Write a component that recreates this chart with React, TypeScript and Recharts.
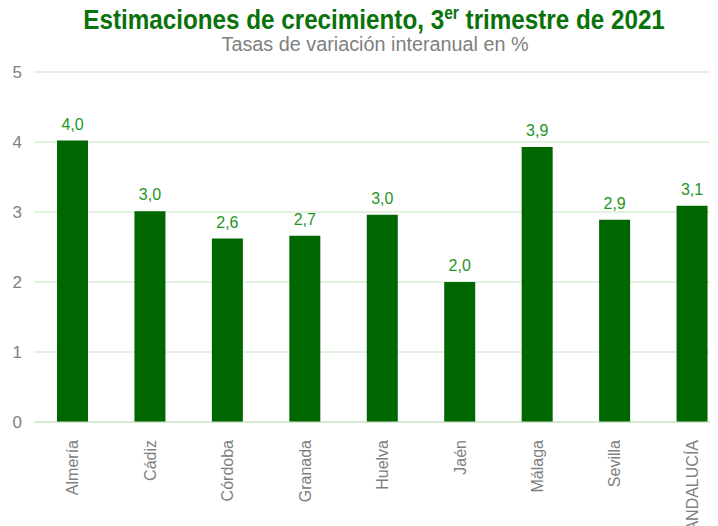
import React from 'react';
import { BarChart, Bar, XAxis, YAxis, CartesianGrid, LabelList } from 'recharts';

// Provinces and growth estimates, 3rd quarter 2021
const provinces = ['Almería', 'Cádiz', 'Córdoba', 'Granada', 'Huelva', 'Jaén', 'Málaga', 'Sevilla', 'ANDALUCÍA'];
const growth = [4.02, 3.01, 2.62, 2.66, 2.96, 2.0, 3.93, 2.89, 3.09];
const yTicks = [0, 1, 2, 3, 4, 5];

const data = provinces.map((name, i) => ({ name, value: growth[i] }));

const fmt = (v: number) => v.toFixed(1).replace('.', ',');

const XTick = (props: any) => {
  const { x, y, payload } = props;
  return (
    <text
      x={0}
      y={0}
      transform={`translate(${x},${y + 10}) rotate(-90)`}
      textAnchor="end"
      dy="0.35em"
      fill="#808080"
      fontSize={16}
      fontFamily="'Liberation Sans', Arial, sans-serif"
    >
      {payload.value}
    </text>
  );
};

const App: React.FC = () => {
  return (
    <div style={{ position: 'relative', width: 710, height: 518, background: '#fff' }}>
      <div style={{ position: 'absolute', top: 0, left: 0, width: 710, height: 518, overflow: 'hidden' }}>
        <BarChart
          width={723}
          height={540}
          data={data}
          margin={{ top: 64, right: 0, bottom: 0, left: 0 }}
          barSize={31}
        >
          <CartesianGrid vertical={false} stroke="#c6e4c2" strokeWidth={1} />
          <XAxis
            dataKey="name"
            interval={0}
            tickLine={false}
            axisLine={{ stroke: '#c6e4c2' }}
            height={126}
            tick={<XTick />}
          />
          <YAxis
            domain={[0, 5]}
            ticks={yTicks}
            width={26}
            axisLine={false}
            tickLine={false}
            tickSize={0}
            tickMargin={12}
            tick={{ fill: '#808080', fontSize: 17, fontFamily: "'Liberation Sans', Arial, sans-serif" }}
          />
          <Bar dataKey="value" fill="#006600" isAnimationActive={false}>
            <LabelList
              dataKey="value"
              position="top"
              offset={11}
              formatter={(v: any) => fmt(Number(v))}
              fill="#1f961f"
              fontSize={16}
              fontFamily="'Liberation Sans', Arial, sans-serif"
            />
          </Bar>
        </BarChart>
      </div>
      <div
        style={{
          position: 'absolute',
          top: -4,
          left: 0,
          width: 710,
          paddingLeft: 22,
          boxSizing: 'border-box',
          textAlign: 'center',
          fontFamily: "'Liberation Sans', sans-serif",
          fontWeight: 'bold',
          fontSize: 28,
          color: '#0a720a',
          lineHeight: '32px',
          whiteSpace: 'nowrap',
        }}
      >
        <span style={{ display: 'inline-block', transform: 'scaleX(0.865)', transformOrigin: 'center' }}>
          Estimaciones de crecimiento, 3<sup style={{ fontSize: 18, lineHeight: 0 }}>er</sup> trimestre de 2021
        </span>
      </div>
      <div
        style={{
          position: 'absolute',
          top: 25,
          left: 0,
          width: 710,
          paddingLeft: 24,
          boxSizing: 'border-box',
          textAlign: 'center',
          fontFamily: "'Liberation Sans', sans-serif",
          fontSize: 20,
          color: '#808080',
          lineHeight: '22px',
          whiteSpace: 'nowrap',
        }}
      >
        <span style={{ display: 'inline-block', transform: 'scaleX(0.99)', transformOrigin: 'center' }}>
          Tasas de variación interanual en %
        </span>
      </div>
    </div>
  );
};

export default App;
